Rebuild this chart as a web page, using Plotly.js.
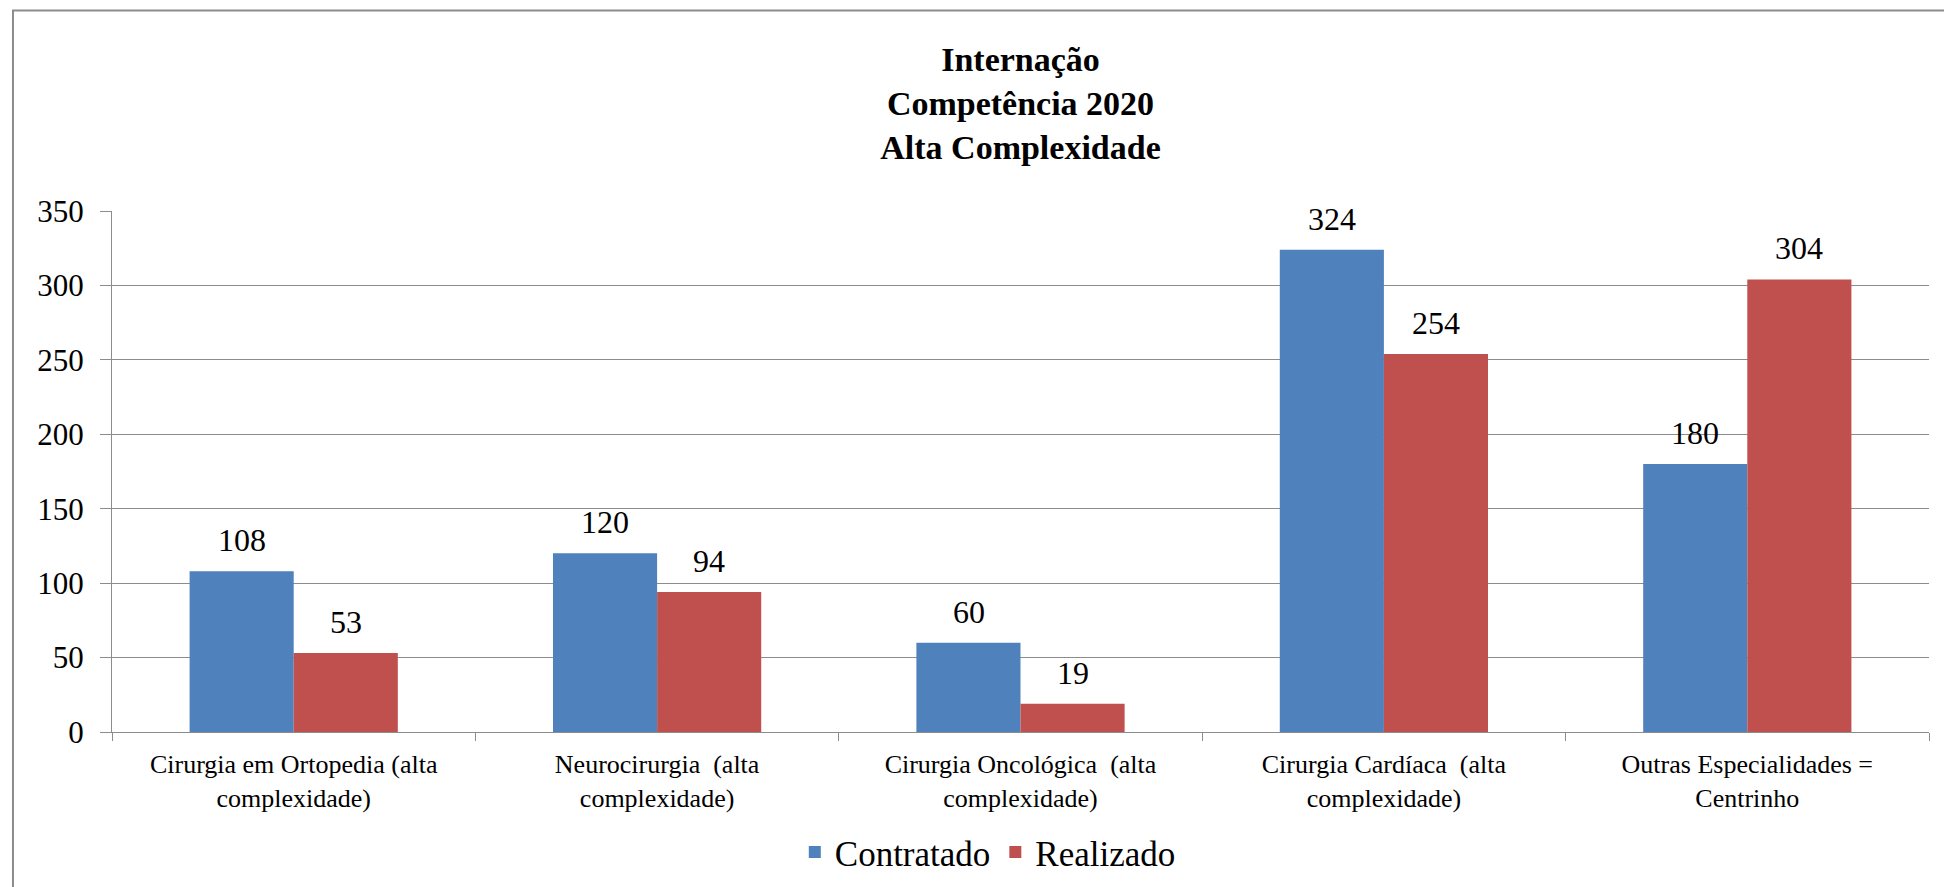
<!DOCTYPE html>
<html>
<head>
<meta charset="utf-8">
<script src="https://cdn.plot.ly/plotly-3.0.1.min.js"></script>
<style>
html,body{margin:0;padding:0;background:#fff;}
#chart{width:1944px;height:887px;}
</style>
</head>
<body>
<div id="chart"></div>
<script>
const categories = [
  "Cirurgia em Ortopedia (alta<br>complexidade)",
  "Neurocirurgia  (alta<br>complexidade)",
  "Cirurgia Oncológica  (alta<br>complexidade)",
  "Cirurgia Cardíaca  (alta<br>complexidade)",
  "Outras Especialidades =<br>Centrinho"
];
const contratado = [108, 120, 60, 324, 180];
const realizado = [53, 94, 19, 254, 304];
const seriesNames = ["Contratado", "Realizado"];
const titleLines = ["Internação", "Competência 2020", "Alta Complexidade"];
const yTicks = [0, 50, 100, 150, 200, 250, 300, 350];

const FONT = "'Liberation Serif', 'Times New Roman', serif";
const GRID = "#8c8c8c";
const COLORS = ["#4F81BD", "#C0504D"];

const data = [contratado, realizado].map((vals, k) => ({
  type: "bar",
  name: seriesNames[k],
  x: categories,
  y: vals,
  marker: {color: COLORS[k], line: {width: 0}},
  hoverinfo: "skip"
}));

// value labels anchored at each bar's data coordinates
const HALF_BAR = 52;
const annotations = [];
[contratado, realizado].forEach((vals, k) => {
  vals.forEach((v, i) => {
    annotations.push({
      x: categories[i], y: v, xref: "x", yref: "y",
      text: String(v), showarrow: false,
      xanchor: "center", yanchor: "bottom",
      xshift: k === 0 ? -HALF_BAR : HALF_BAR, yshift: 11,
      font: {family: FONT, size: 32, color: "#000"}
    });
  });
});

const layout = {
  width: 1944,
  height: 887,
  margin: {l: 112, r: 15, t: 211, b: 155, pad: 0, autoexpand: false},
  paper_bgcolor: "#fff",
  plot_bgcolor: "#fff",
  font: {family: FONT, color: "#000"},
  barmode: "group",
  bargap: 0.427,
  bargroupgap: 0,
  title: {
    text: "<b>" + titleLines.join("<br>") + "</b>",
    font: {family: FONT, size: 34, color: "#000"},
    x: 0.5, xref: "paper", xanchor: "center",
    y: 0.92, yref: "container", yanchor: "top"
  },
  xaxis: {
    type: "category",
    tickson: "boundaries",
    ticks: "outside",
    ticklen: 8,
    tickcolor: GRID,
    tickwidth: 1,
    showline: true,
    linecolor: GRID,
    linewidth: 1,
    showgrid: false,
    tickfont: {family: FONT, size: 26, color: "#000"},
    ticklabelstandoff: 9,
    fixedrange: true
  },
  yaxis: {
    range: [0, 350],
    tickvals: yTicks,
    ticktext: yTicks.map(String),
    ticks: "outside",
    ticklen: 11,
    tickcolor: GRID,
    showline: true,
    linecolor: GRID,
    linewidth: 1,
    showgrid: true,
    gridcolor: GRID,
    gridwidth: 1,
    zeroline: false,
    tickfont: {family: FONT, size: 31, color: "#000"},
    ticklabelstandoff: 10,
    fixedrange: true
  },
  legend: {
    orientation: "h",
    x: 0.482, xanchor: "center",
    y: -0.231, yanchor: "middle",
    font: {family: FONT, size: 35, color: "#000"},
    itemclick: false,
    traceorder: "normal"
  },
  annotations: annotations,
  shapes: [{
    type: "rect",
    xref: "paper", yref: "paper",
    x0: -0.0545, x1: 1.012, y0: -0.323, y1: 1.385,
    line: {color: "#8c8c8c", width: 2},
    fillcolor: "rgba(0,0,0,0)",
    layer: "below"
  }]
};

Plotly.newPlot("chart", data, layout, {staticPlot: true, displayModeBar: false});
</script>
</body>
</html>
